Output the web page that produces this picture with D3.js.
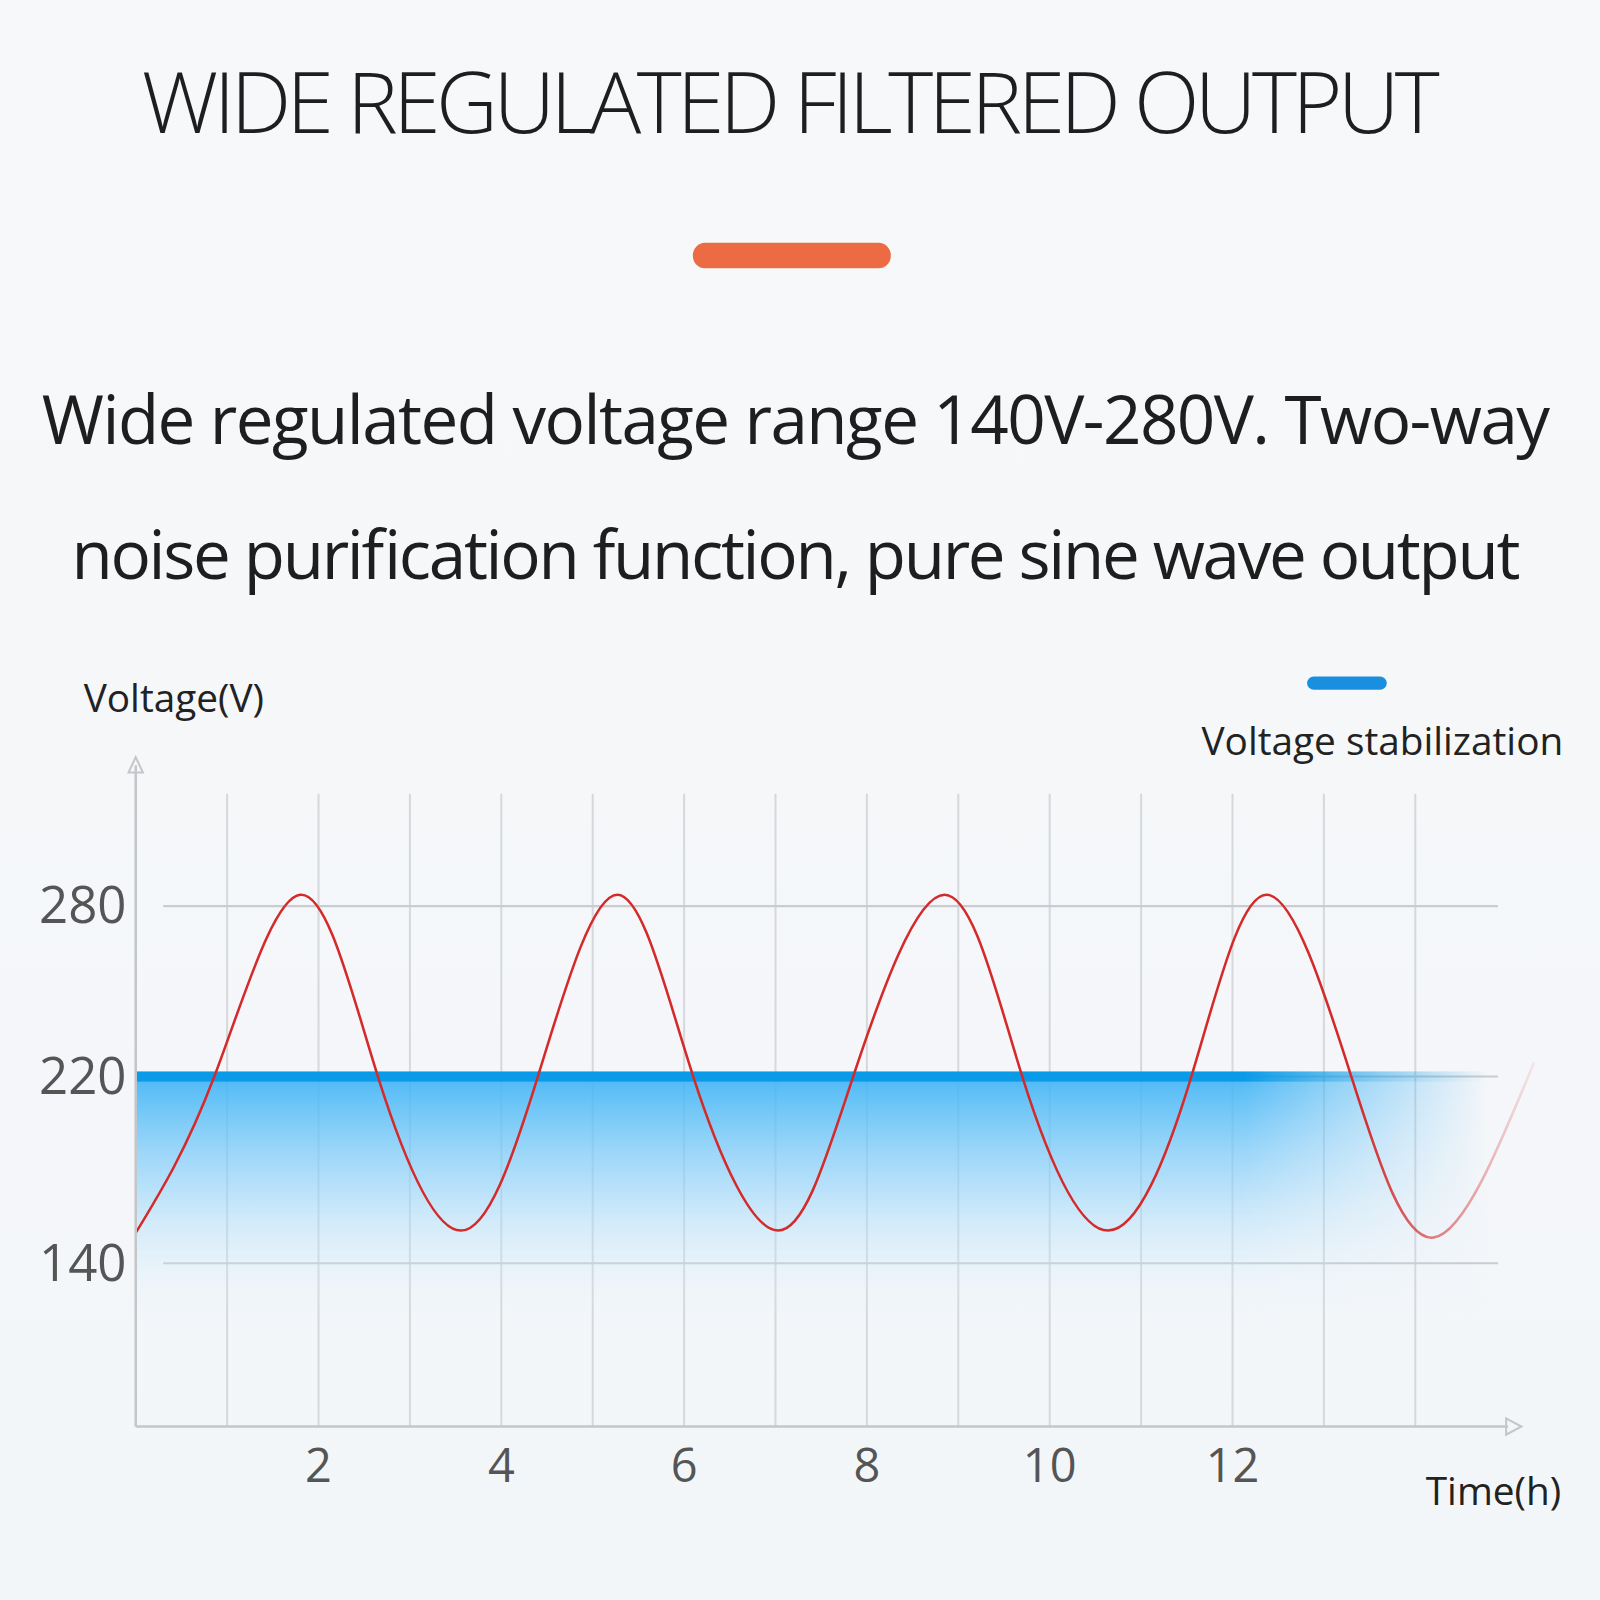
<!DOCTYPE html>
<html><head><meta charset="utf-8">
<script src="https://cdn.jsdelivr.net/npm/d3@7"></script>
<style>body{margin:0;background:#f5f7f9}</style></head>
<body><svg id="c" width="1600" height="1600"></svg>
<script>
const timeTicks = [2,4,6,8,10,12];
const gridHours = [1,2,3,4,5,6,7,8,9,10,11,12,13,14];
const voltTicks = [140,220,280];
const waveTime = [0,0.86,1.8,2.65,3.56,4.4,5.27,6.1,7.03,7.85,8.85,9.7,10.64,11.55,12.37,13.3,14.2,15.3];
const waveVolt = [153,220,284,220,154,220,284,220,154,220,284,220,154,220,284,220,151,225];
const stableVolt = 220;

const svg = d3.select("#c");
const defs = svg.append("defs");
const bg = defs.append("linearGradient").attr("id","bg").attr("x1",0).attr("y1",0).attr("x2",0).attr("y2",1);
bg.append("stop").attr("offset",0).attr("stop-color","#f7f8f9");
bg.append("stop").attr("offset",1).attr("stop-color","#f3f6f9");
svg.append("rect").attr("width",1600).attr("height",1600).attr("fill","url(#bg)");
const g = svg.append("g").attr("transform","scale(1.0204)");
const font = "'Open Sans', 'Noto Sans', sans-serif";

g.append("text").attr("x",775).attr("y",130).attr("text-anchor","middle").attr("font-family",font).attr("font-weight",300)
 .attr("font-size",84).attr("fill","#1e1e1e").attr("textLength",1272).text("WIDE REGULATED FILTERED OUTPUT");
g.append("rect").attr("x",679).attr("y",238).attr("width",194).attr("height",25).attr("rx",12).attr("fill","#ec6b43");
g.append("text").attr("x",780).attr("y",435).attr("text-anchor","middle").attr("font-family",font)
 .attr("font-size",66).attr("fill","#1e1e1e").attr("textLength",1478).text("Wide regulated voltage range 140V-280V. Two-way");
g.append("text").attr("x",780).attr("y",567).attr("text-anchor","middle").attr("font-family",font)
 .attr("font-size",66).attr("fill","#1e1e1e").attr("textLength",1420).text("noise purification function, pure sine wave output");

const x = d3.scaleLinear().domain([0,14]).range([133,1387]);
const y = d3.scaleLinear().domain([140,220,280]).range([1238,1055,888]);

g.selectAll(".vg").data(gridHours).join("line").attr("x1",d=>x(d)).attr("x2",d=>x(d))
 .attr("y1",778).attr("y2",1398).attr("stroke","#d6d9dc").attr("stroke-width",2);
g.selectAll(".hg").data(voltTicks).join("line").attr("x1",160).attr("x2",1468)
 .attr("y1",d=>y(d)).attr("y2",d=>y(d)).attr("stroke","#c9ccd0").attr("stroke-width",2);

const bandG = defs.append("linearGradient").attr("id","band").attr("x1",0).attr("y1",0).attr("x2",0).attr("y2",1);
bandG.append("stop").attr("offset",0).attr("stop-color","#3ab2f5").attr("stop-opacity",0.9);
bandG.append("stop").attr("offset",0.45).attr("stop-color","#8fd2fa").attr("stop-opacity",0.6);
bandG.append("stop").attr("offset",1).attr("stop-color","#e8f5fd").attr("stop-opacity",0);
const fadeH = defs.append("linearGradient").attr("id","fadeH").attr("x1",0).attr("y1",0).attr("x2",1).attr("y2",0);
fadeH.append("stop").attr("offset",0).attr("stop-color","#fff");
fadeH.append("stop").attr("offset",0.82).attr("stop-color","#fff");
fadeH.append("stop").attr("offset",1).attr("stop-color","#000");
const mask = defs.append("mask").attr("id","m").attr("maskUnits","userSpaceOnUse");
mask.append("rect").attr("x",133).attr("y",1040).attr("width",1325).attr("height",270).attr("fill","url(#fadeH)");
const bandTop = y(stableVolt);
const bg2 = g.append("g").attr("mask","url(#m)");
bg2.append("rect").attr("x",133).attr("y",bandTop).attr("width",1325).attr("height",1295-bandTop).attr("fill","url(#band)");
bg2.append("rect").attr("x",133).attr("y",bandTop-5).attr("width",1325).attr("height",10).attr("fill","#0a9be8");

const rg = defs.append("linearGradient").attr("id","red").attr("gradientUnits","userSpaceOnUse").attr("x1",1330).attr("x2",1510).attr("y1",0).attr("y2",0);
rg.append("stop").attr("offset",0).attr("stop-color","#d42a2a");
rg.append("stop").attr("offset",1).attr("stop-color","#d42a2a").attr("stop-opacity",0.05);
const pts = waveTime.map((t,i)=>[t,waveVolt[i]]);
g.append("path").attr("d",d3.line().x(d=>x(d[0])).y(d=>y(d[1])).curve(d3.curveNatural)(pts))
 .attr("fill","none").attr("stroke","url(#red)").attr("stroke-width",2.5);

const axc = "#c4c7ca";
g.append("line").attr("x1",133).attr("x2",133).attr("y1",750).attr("y2",1398).attr("stroke",axc).attr("stroke-width",2.5);
g.append("line").attr("x1",133).attr("x2",1478).attr("y1",1398).attr("y2",1398).attr("stroke",axc).attr("stroke-width",2.5);
g.append("path").attr("d","M126,757 L133,742 L140,757 Z").attr("fill","none").attr("stroke",axc).attr("stroke-width",2);
g.append("path").attr("d","M1476,1390 L1491,1398 L1476,1406 Z").attr("fill","none").attr("stroke",axc).attr("stroke-width",2);

g.selectAll(".xt").data(timeTicks).join("text").attr("x",d=>x(d)).attr("y",1452).attr("text-anchor","middle")
 .attr("font-family",font).attr("font-size",46).attr("fill","#555").text(d=>d);
g.selectAll(".yt").data(voltTicks).join("text").attr("x",124).attr("y",d=>y(d)+17).attr("text-anchor","end")
 .attr("font-family",font).attr("font-size",50).attr("fill","#555").text(d=>d);

g.append("text").attr("x",82).attr("y",698).attr("font-family",font).attr("font-size",38).attr("fill","#222").text("Voltage(V)");
g.append("text").attr("x",1530).attr("y",1475).attr("text-anchor","end").attr("font-family",font).attr("font-size",38).attr("fill","#222").text("Time(h)");
g.append("rect").attr("x",1281).attr("y",663).attr("width",78).attr("height",13).attr("rx",6.5).attr("fill","#1a8fdf");
g.append("text").attr("x",1532).attr("y",740).attr("text-anchor","end").attr("font-family",font).attr("font-size",38).attr("fill","#222").text("Voltage stabilization");
</script></body></html>
